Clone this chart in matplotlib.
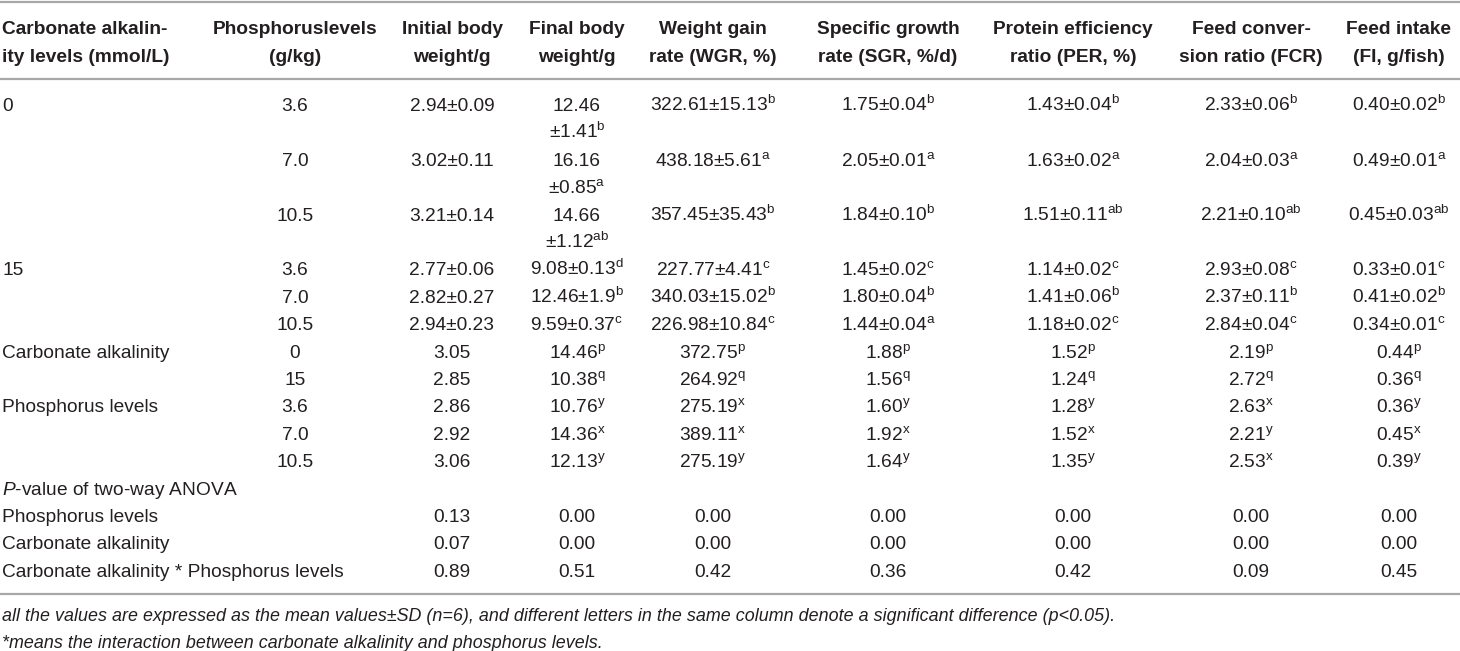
import matplotlib.pyplot as plt

plt.rcParams['font.family'] = ['Liberation Sans', 'DejaVu Sans']
plt.rcParams['mathtext.fontset'] = 'custom'
plt.rcParams['mathtext.rm'] = 'Liberation Sans'
plt.rcParams['mathtext.it'] = 'Liberation Sans:italic'
plt.rcParams['mathtext.bf'] = 'Liberation Sans:bold'

# 1. Table content
headers = ["Carbonate alkalin-\nity levels (mmol/L)", "Phosphoruslevels\n(g/kg)",
           "Initial body\nweight/g", "Final body\nweight/g", "Weight gain\nrate (WGR, %)",
           "Specific growth\nrate (SGR, %/d)", "Protein efficiency\nratio (PER, %)",
           "Feed conver-\nsion ratio (FCR)", "Feed intake\n(FI, g/fish)"]

alk_levels = ["0", "", "", "15", "", ""]
phos_levels = ["3.6", "7.0", "10.5", "3.6", "7.0", "10.5"]
ibw = ["2.94±0.09", "3.02±0.11", "3.21±0.14", "2.77±0.06", "2.82±0.27", "2.94±0.23"]
fbw = ["12.46\n±1.41", "16.16\n±0.85", "14.66\n±1.12", "9.08±0.13", "12.46±1.9", "9.59±0.37"]
fbw_sup = ["b", "a", "ab", "d", "b", "c"]
wgr = ["322.61±15.13", "438.18±5.61", "357.45±35.43", "227.77±4.41", "340.03±15.02", "226.98±10.84"]
wgr_sup = ["b", "a", "b", "c", "b", "c"]
sgr = ["1.75±0.04", "2.05±0.01", "1.84±0.10", "1.45±0.02", "1.80±0.04", "1.44±0.04"]
sgr_sup = ["b", "a", "b", "c", "b", "a"]
per = ["1.43±0.04", "1.63±0.02", "1.51±0.11", "1.14±0.02", "1.41±0.06", "1.18±0.02"]
per_sup = ["b", "a", "ab", "c", "b", "c"]
fcr = ["2.33±0.06", "2.04±0.03", "2.21±0.10", "2.93±0.08", "2.37±0.11", "2.84±0.04"]
fcr_sup = ["b", "a", "ab", "c", "b", "c"]
fi = ["0.40±0.02", "0.49±0.01", "0.45±0.03", "0.33±0.01", "0.41±0.02", "0.34±0.01"]
fi_sup = ["b", "a", "ab", "c", "b", "c"]

# main effects
m_labels = ["Carbonate alkalinity", "", "Phosphorus levels", "", ""]
m_levels = ["0", "15", "3.6", "7.0", "10.5"]
m_ibw = ["3.05", "2.85", "2.86", "2.92", "3.06"]
m_fbw = ["14.46", "10.38", "10.76", "14.36", "12.13"]
m_fbw_sup = ["p", "q", "y", "x", "y"]
m_wgr = ["372.75", "264.92", "275.19", "389.11", "275.19"]
m_wgr_sup = ["p", "q", "x", "x", "y"]
m_sgr = ["1.88", "1.56", "1.60", "1.92", "1.64"]
m_sgr_sup = ["p", "q", "y", "x", "y"]
m_per = ["1.52", "1.24", "1.28", "1.52", "1.35"]
m_per_sup = ["p", "q", "y", "x", "y"]
m_fcr = ["2.19", "2.72", "2.63", "2.21", "2.53"]
m_fcr_sup = ["p", "q", "x", "y", "x"]
m_fi = ["0.44", "0.36", "0.36", "0.45", "0.39"]
m_fi_sup = ["p", "q", "y", "x", "y"]

# two-way ANOVA
p_title = r"$\mathit{P}$-value of two-way ANOVA"
p_labels = ["Phosphorus levels", "Carbonate alkalinity", "Carbonate alkalinity * Phosphorus levels"]
p_phos = ["0.13", "0.00", "0.00", "0.00", "0.00", "0.00", "0.00"]
p_alk = ["0.07", "0.00", "0.00", "0.00", "0.00", "0.00", "0.00"]
p_inter = ["0.89", "0.51", "0.42", "0.36", "0.42", "0.09", "0.45"]

notes = ["all the values are expressed as the mean values±SD (n=6), and different letters in the same column denote a significant difference (p<0.05).",
         "*means the interaction between carbonate alkalinity and phosphorus levels."]

# 2. Layout
W, H = 1460, 651
col_x = [2, 295, 452, 577, 713, 888, 1073, 1251, 1399]
pitch = 27.4
first_base = 111
head_base = [34, 62]
rules = [1.5, 78.5, 594]
note_base = [621, 648]
fs = 13.8
note_fs = 12.9
color = '#231f20'


def sup(v, s):
    return v + r"$^{\mathrm{%s}}$" % s if s else v


def cell(ax, col, line, txt):
    for k, part in enumerate(txt.split("\n")):
        ax.text(col_x[col], first_base + (line + k) * pitch, part, fontsize=fs, color=color,
                ha='left' if col == 0 else 'center', va='baseline')


fig = plt.figure(figsize=(W / 100, H / 100), dpi=100)
ax = fig.add_axes([0, 0, 1, 1])
ax.set_xlim(0, W)
ax.set_ylim(H, 0)
ax.axis('off')

for y in rules:
    ax.axhline(y, color='#a8a8a8', lw=1.6)

for c, h in enumerate(headers):
    for k, part in enumerate(h.split("\n")):
        ax.text(col_x[c], head_base[k], part, fontsize=fs, fontweight='bold', color=color,
                ha='left' if c == 0 else 'center', va='baseline')

# treatment rows
line = 0
for i in range(len(ibw)):
    fb = fbw[i].split("\n")
    fb[-1] = sup(fb[-1], fbw_sup[i])
    row = [alk_levels[i], phos_levels[i], ibw[i], "\n".join(fb), sup(wgr[i], wgr_sup[i]),
           sup(sgr[i], sgr_sup[i]), sup(per[i], per_sup[i]), sup(fcr[i], fcr_sup[i]),
           sup(fi[i], fi_sup[i])]
    for c, txt in enumerate(row):
        cell(ax, c, line, txt)
    line += max(t.count("\n") + 1 for t in row)

# main effect rows
for i in range(len(m_levels)):
    row = [m_labels[i], m_levels[i], m_ibw[i], sup(m_fbw[i], m_fbw_sup[i]),
           sup(m_wgr[i], m_wgr_sup[i]), sup(m_sgr[i], m_sgr_sup[i]),
           sup(m_per[i], m_per_sup[i]), sup(m_fcr[i], m_fcr_sup[i]), sup(m_fi[i], m_fi_sup[i])]
    for c, txt in enumerate(row):
        cell(ax, c, line, txt)
    line += 1

# ANOVA rows
cell(ax, 0, line, p_title)
line += 1
for lab, vals in zip(p_labels, [p_phos, p_alk, p_inter]):
    cell(ax, 0, line, lab)
    for c, v in enumerate(vals):
        cell(ax, c + 2, line, v)
    line += 1

for y, t in zip(note_base, notes):
    ax.text(2, y, t, fontsize=note_fs, fontstyle='italic', color=color, ha='left', va='baseline')

plt.savefig("out.png", dpi=100)
